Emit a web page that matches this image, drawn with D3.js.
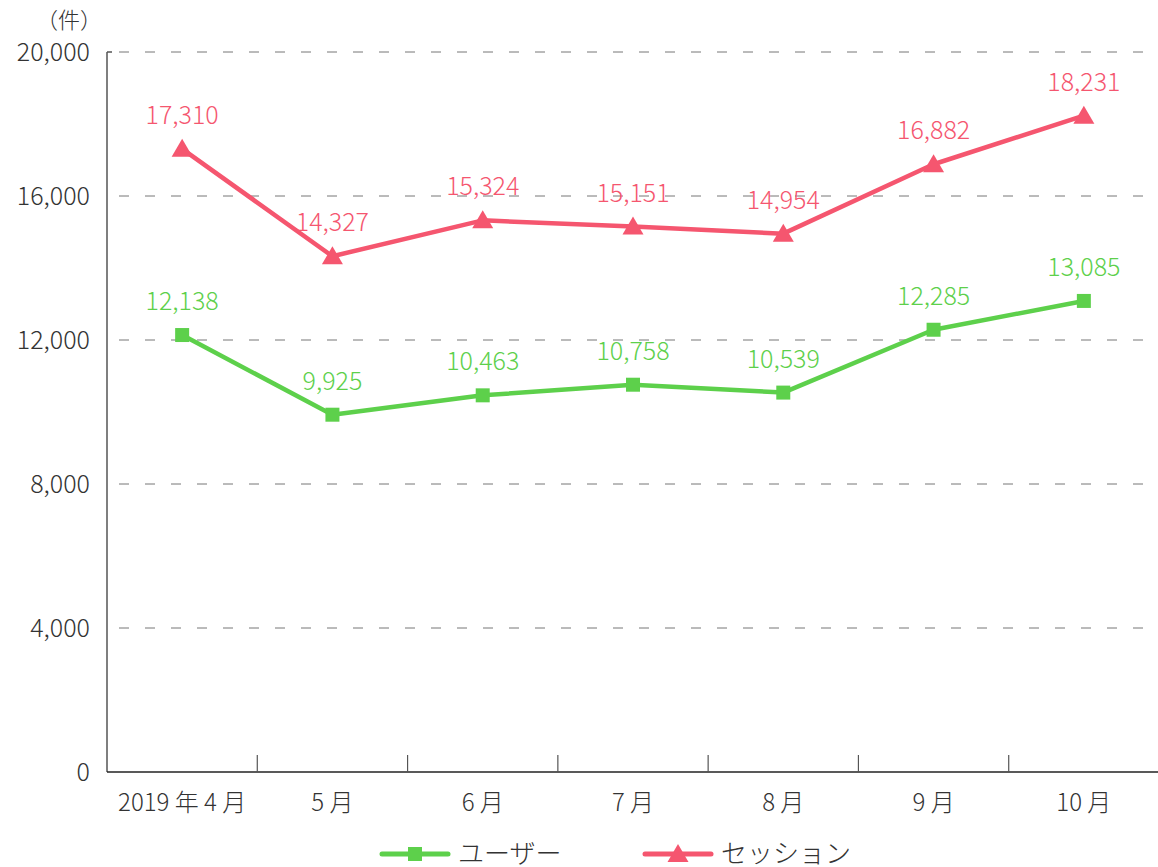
<!DOCTYPE html>
<html>
<head>
<meta charset="utf-8">
<script src="https://cdn.jsdelivr.net/npm/d3@7"></script>
<style>
  body { margin: 0; background: #fff; }
  text { font-family: "Noto Sans CJK JP", "Noto Sans", sans-serif; font-weight: 300; }
</style>
</head>
<body>
<div id="chart"></div>
<script>
var months = ["2019 年 4 月", "5 月", "6 月", "7 月", "8 月", "9 月", "10 月"];
var users = [12138, 9925, 10463, 10758, 10539, 12285, 13085];
var sessions = [17310, 14327, 15324, 15151, 14954, 16882, 18231];
var yTicks = [0, 4000, 8000, 12000, 16000, 20000];

var width = 1158, height = 867;
var margin = {top: 52, left: 107, right: 0, bottom: 95};
var green = "#5dd04b", pink = "#f5566f";

var svg = d3.select("#chart").append("svg")
  .attr("width", width)
  .attr("height", height);

var x = d3.scaleBand().domain(months).range([margin.left, width - margin.right + 1]);
var y = d3.scaleLinear().domain([0, 20000]).range([height - margin.bottom, margin.top]);

// gridlines
svg.selectAll(".grid")
  .data(yTicks.filter(function(d){ return d > 0; }))
  .enter().append("line")
  .attr("class", "grid")
  .attr("x1", margin.left + 12).attr("x2", width)
  .attr("y1", function(d){ return y(d); })
  .attr("y2", function(d){ return y(d); })
  .attr("stroke", "#777")
  .attr("stroke-width", 1)
  .attr("stroke-dasharray", "10,16");

// y axis
svg.append("line")
  .attr("x1", margin.left).attr("x2", margin.left)
  .attr("y1", y(20000)).attr("y2", y(0))
  .attr("stroke", "#555").attr("stroke-width", 1.5);
svg.append("line")
  .attr("x1", margin.left).attr("x2", margin.left + 5)
  .attr("y1", y(20000)).attr("y2", y(20000))
  .attr("stroke", "#555").attr("stroke-width", 1.5);

svg.selectAll(".ylab")
  .data(yTicks)
  .enter().append("text")
  .attr("x", 90)
  .attr("y", function(d){ return y(d); })
  .attr("dy", "0.35em")
  .attr("text-anchor", "end")
  .attr("font-size", 25)
  .attr("fill", "#333")
  .text(function(d){ return d3.format(",")(d); });

svg.append("text")
  .attr("x", 36).attr("y", 28)
  .attr("font-size", 22)
  .attr("fill", "#333")
  .text("（件）");

// x axis
svg.append("line")
  .attr("x1", margin.left).attr("x2", width)
  .attr("y1", y(0)).attr("y2", y(0))
  .attr("stroke", "#222").attr("stroke-width", 1.5);

svg.selectAll(".xtick")
  .data(months.slice(1))
  .enter().append("line")
  .attr("x1", function(d){ return x(d); })
  .attr("x2", function(d){ return x(d); })
  .attr("y1", y(0) - 17).attr("y2", y(0))
  .attr("stroke", "#555").attr("stroke-width", 1.2);

svg.selectAll(".xlab")
  .data(months)
  .enter().append("text")
  .attr("x", function(d){ return x(d) + x.bandwidth() / 2; })
  .attr("y", y(0) + 39)
  .attr("text-anchor", "middle")
  .attr("font-size", 24)
  .attr("fill", "#333")
  .text(function(d){ return d; });

var line = d3.line()
  .x(function(d, i){ return x(months[i]) + x.bandwidth() / 2; })
  .y(function(d){ return y(d); });

function drawSeries(values, color, shape) {
  svg.append("path")
    .datum(values)
    .attr("d", line)
    .attr("fill", "none")
    .attr("stroke", color)
    .attr("stroke-width", 4.5)
    .attr("stroke-linejoin", "round");

  svg.selectAll(null)
    .data(values)
    .enter().append("path")
    .attr("transform", function(d, i){
      return "translate(" + (x(months[i]) + x.bandwidth() / 2) + "," + y(d) + ")";
    })
    .attr("d", shape)
    .attr("fill", color);

  svg.selectAll(null)
    .data(values)
    .enter().append("text")
    .attr("x", function(d, i){ return x(months[i]) + x.bandwidth() / 2; })
    .attr("y", function(d){ return y(d) - 25; })
    .attr("text-anchor", "middle")
    .attr("font-size", 25)
    .attr("fill", color)
    .text(function(d){ return d3.format(",")(d); });
}

var square = "M-7,-7H7V7H-7Z";
var triangle = "M0,-10L10.5,8H-10.5Z";

drawSeries(users, green, square);
drawSeries(sessions, pink, triangle);

// legend
var legendY = 854;
var legend = [
  {name: "ユーザー", color: green, shape: square, x1: 382, x2: 448, tx: 458},
  {name: "セッション", color: pink, shape: triangle, x1: 645, x2: 711, tx: 721}
];
legend.forEach(function(l){
  svg.append("line")
    .attr("x1", l.x1).attr("x2", l.x2)
    .attr("y1", legendY).attr("y2", legendY)
    .attr("stroke", l.color).attr("stroke-width", 5)
    .attr("stroke-linecap", "round");
  svg.append("path")
    .attr("transform", "translate(" + ((l.x1 + l.x2) / 2) + "," + legendY + ")")
    .attr("d", l.shape)
    .attr("fill", l.color);
  svg.append("text")
    .attr("x", l.tx).attr("y", legendY)
    .attr("dy", "0.36em")
    .attr("font-size", 26)
    .attr("fill", "#333")
    .text(l.name);
});
</script>
</body>
</html>
